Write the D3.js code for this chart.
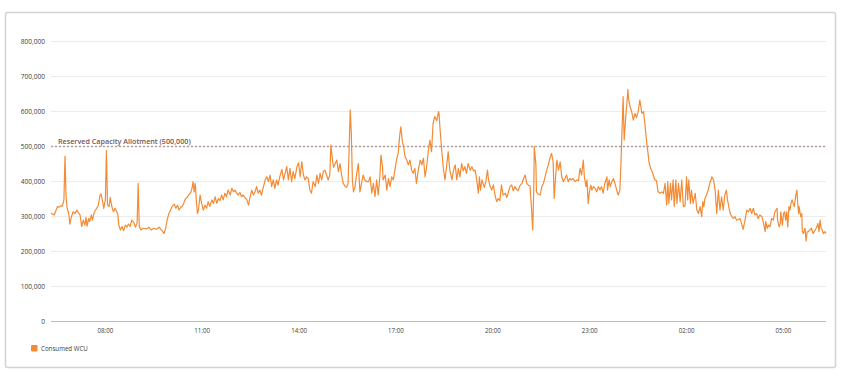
<!DOCTYPE html>
<html>
<head>
<meta charset="utf-8">
<script src="https://cdn.jsdelivr.net/npm/d3@7"></script>
<style>
  body { margin: 0; background: #fff; font-family: "Open Sans", sans-serif; }
</style>
</head>
<body>
<div id="chart"></div>
<script>
// series: [minutes after 06:20, consumed WCU in thousands]
const consumedWcu = [
  [0,309],[2,306],[6,303],[9,315],[12,327],[15,325],[18,329],[21,328],[24,346],[26,471],[28,355],[30,322],
  [33,307],[35,277],[38,298],[41,312],[45,307],[48,317],[51,309],[54,303],[57,270],[60,288],[63,274],[65,296],
  [67,271],[70,293],[72,284],[75,303],[77,288],[80,309],[82,315],[85,322],[88,331],[91,360],[93,363],[96,341],
  [98,322],[101,346],[103,487],[105,331],[108,327],[110,353],[113,327],[116,312],[119,322],[122,312],[124,306],
  [126,274],[129,260],[132,270],[135,258],[138,274],[141,268],[144,277],[147,270],[150,288],[154,281],[157,268],
  [160,281],[162,393],[164,270],[167,260],[171,265],[177,263],[182,268],[186,260],[191,265],[196,262],[201,268],
  [206,258],[210,250],[213,265],[216,290],[219,307],[222,317],[225,327],[229,334],[232,322],[235,331],[238,317],
  [241,325],[244,328],[247,338],[250,350],[253,353],[256,360],[260,369],[262,379],[264,398],[266,369],[268,393],
  [270,346],[272,307],[274,317],[277,360],[280,336],[283,317],[286,331],[289,322],[292,341],[295,327],[299,346],
  [302,336],[305,355],[308,336],[311,350],[314,344],[317,360],[320,346],[323,365],[326,355],[329,374],[333,360],
  [336,379],[339,369],[342,374],[345,365],[348,360],[351,367],[354,355],[357,360],[360,353],[364,346],[367,331],
  [370,355],[373,374],[376,360],[379,369],[382,384],[385,365],[388,374],[391,360],[394,379],[398,403],[401,412],
  [404,398],[407,417],[410,384],[413,403],[416,379],[419,403],[422,388],[425,412],[429,433],[432,403],[435,422],
  [438,441],[441,403],[444,436],[447,398],[450,427],[453,407],[457,441],[460,452],[463,412],[466,455],[469,417],
  [472,403],[475,412],[478,407],[481,374],[484,365],[487,398],[491,384],[494,417],[497,393],[500,422],[503,403],
  [506,427],[509,431],[512,417],[515,403],[518,417],[520,503],[523,460],[525,439],[528,450],[531,460],[534,427],
  [537,450],[540,417],[543,393],[546,386],[549,382],[552,393],[555,546],[556,603],[558,536],[560,403],[562,369],
  [565,384],[568,422],[571,450],[574,369],[577,393],[580,417],[583,403],[587,398],[590,398],[593,412],[596,365],
  [599,393],[602,355],[605,403],[608,360],[611,412],[613,474],[616,441],[617,403],[621,417],[624,374],[627,407],
  [630,384],[633,412],[636,403],[639,431],[642,460],[645,479],[648,531],[650,555],[653,512],[655,498],[658,469],
  [661,460],[664,446],[667,460],[670,431],[673,422],[676,436],[679,393],[682,427],[686,460],[689,446],[692,465],
  [695,412],[698,441],[701,484],[704,517],[707,484],[710,565],[713,584],[717,572],[720,598],[721,593],[723,546],
  [726,488],[729,436],[732,403],[735,441],[738,484],[741,431],[745,403],[748,431],[751,446],[754,403],[757,436],
  [760,412],[763,450],[766,429],[769,441],[772,422],[775,450],[779,431],[782,441],[785,429],[788,431],[791,403],
  [794,365],[796,412],[798,374],[801,403],[805,382],[808,398],[811,431],[813,403],[816,384],[819,374],[822,389],
  [825,360],[828,341],[831,350],[834,344],[837,389],[840,360],[844,365],[847,353],[850,369],[853,384],[856,389],
  [859,372],[862,384],[865,376],[868,372],[871,386],[875,393],[878,407],[881,417],[884,393],[887,388],[890,386],
  [893,317],[895,260],[897,374],[898,498],[901,446],[902,369],[905,363],[909,360],[912,384],[915,393],[918,412],
  [921,431],[924,446],[927,465],[930,479],[933,455],[935,350],[938,422],[940,460],[943,431],[946,455],[949,412],
  [952,398],[955,407],[958,417],[961,398],[964,407],[967,403],[970,407],[974,398],[977,403],[980,401],[983,436],
  [986,417],[989,460],[991,412],[994,384],[996,403],[998,336],[1000,365],[1003,388],[1005,374],[1008,384],
  [1011,379],[1014,369],[1017,384],[1020,374],[1023,384],[1026,365],[1029,393],[1033,412],[1034,374],[1037,403],
  [1039,384],[1042,398],[1045,407],[1048,393],[1051,374],[1054,360],[1057,374],[1059,450],[1060,498],[1062,593],
  [1063,641],[1065,517],[1068,584],[1070,622],[1072,662],[1073,636],[1076,612],[1079,598],[1082,574],[1085,593],
  [1088,581],[1091,598],[1094,631],[1098,593],[1101,598],[1104,555],[1107,507],[1109,484],[1111,455],[1114,436],
  [1116,431],[1119,417],[1122,403],[1125,401],[1128,369],[1132,365],[1135,369],[1138,365],[1141,393],[1144,331],
  [1146,398],[1148,336],[1151,393],[1153,346],[1156,403],[1158,327],[1161,403],[1163,336],[1166,393],[1169,341],
  [1172,403],[1175,327],[1178,329],[1181,412],[1183,346],[1185,403],[1188,336],[1190,374],[1193,336],[1197,365],
  [1200,317],[1203,307],[1206,327],[1209,298],[1211,341],[1213,327],[1215,350],[1218,360],[1221,374],[1224,393],
  [1228,412],[1231,403],[1234,374],[1237,307],[1240,374],[1243,317],[1246,355],[1249,317],[1252,360],[1255,374],
  [1257,346],[1260,322],[1262,307],[1265,298],[1268,293],[1271,298],[1274,288],[1277,290],[1280,293],[1283,279],
  [1286,262],[1289,284],[1293,317],[1296,312],[1299,322],[1302,307],[1305,322],[1308,303],[1311,307],[1314,293],
  [1317,303],[1321,298],[1324,279],[1327,255],[1328,284],[1331,265],[1333,274],[1336,269],[1339,293],[1342,288],
  [1345,312],[1349,322],[1350,288],[1353,269],[1355,279],[1356,312],[1359,274],[1361,307],[1363,312],[1365,288],
  [1367,312],[1369,269],[1371,327],[1373,317],[1375,336],[1377,346],[1379,336],[1381,327],[1384,360],[1386,374],
  [1387,346],[1389,307],[1390,327],[1393,298],[1395,307],[1396,255],[1398,250],[1401,265],[1403,229],[1405,255],
  [1407,255],[1410,260],[1413,265],[1416,250],[1420,260],[1423,269],[1425,279],[1427,255],[1429,288],[1431,265],
  [1433,260],[1435,250],[1438,255],[1440,250]
];

const startTime = new Date(2023, 0, 1, 6, 20);
const windowMinutes = 1440;
const yTicks = [0, 100000, 200000, 300000, 400000, 500000, 600000, 700000, 800000];
const xTickLabels = ["08:00", "11:00", "14:00", "17:00", "20:00", "23:00", "02:00", "05:00"];
const reservedCapacity = 500000;
const reservedLabel = "Reserved Capacity Allotment (500,000)";
const seriesName = "Consumed WCU";

const width = 843, height = 377;
const margin = { top: 41, right: 17, bottom: 56, left: 51 };
const orange = "#f38b35";

const svg = d3.select("#chart").append("svg")
  .attr("width", width)
  .attr("height", height);

// outer panel
svg.append("rect")
  .attr("x", 5.5).attr("y", 12.5)
  .attr("width", 830).attr("height", 355)
  .attr("rx", 2)
  .attr("fill", "#fff")
  .attr("stroke", "#d2d2d2")
  .attr("stroke-width", 1.5);

const data = consumedWcu.map(d => ({
  date: new Date(startTime.getTime() + d[0] * 60000),
  value: d[1] * 1000
}));

const x = d3.scaleTime()
  .domain([startTime, new Date(startTime.getTime() + windowMinutes * 60000)])
  .range([margin.left, width - margin.right]);

const y = d3.scaleLinear()
  .domain([0, 800000])
  .range([height - margin.bottom, margin.top]);

// tick label -> date inside the window
const tickDates = xTickLabels.map(t => {
  const [h, m] = t.split(":").map(Number);
  const d = new Date(startTime);
  d.setHours(h, m, 0, 0);
  if (d < startTime) d.setDate(d.getDate() + 1);
  return d;
});

// gridlines
svg.append("g")
  .selectAll("line")
  .data(yTicks)
  .join("line")
  .attr("x1", x.range()[0])
  .attr("x2", x.range()[1])
  .attr("y1", d => y(d) + 0.5)
  .attr("y2", d => y(d) + 0.5)
  .attr("stroke", d => d === 0 ? "#bcbcbc" : "#ececec")
  .attr("stroke-width", 1);

// y axis labels
const yAxis = d3.axisLeft(y)
  .tickValues(yTicks)
  .tickFormat(d3.format(","))
  .tickSize(0)
  .tickPadding(6);

svg.append("g")
  .attr("transform", `translate(${margin.left},0)`)
  .call(yAxis)
  .call(g => g.select(".domain").remove())
  .call(g => g.selectAll("text")
    .attr("fill", "#3d3d3d")
    .style("font-size", "6.6px")
    .style("font-family", "Open Sans, sans-serif"));

// x axis labels
const xAxis = d3.axisBottom(x)
  .tickValues(tickDates)
  .tickFormat((d, i) => xTickLabels[i])
  .tickSize(0)
  .tickPadding(8);

svg.append("g")
  .attr("transform", `translate(0,${height - margin.bottom})`)
  .call(xAxis)
  .call(g => g.select(".domain").remove())
  .call(g => g.selectAll("text")
    .attr("fill", "#3d3d3d")
    .style("font-size", "6.2px")
    .style("font-family", "Open Sans, sans-serif"));

// reserved capacity line
svg.append("line")
  .attr("x1", x.range()[0])
  .attr("x2", x.range()[1])
  .attr("y1", y(reservedCapacity) + 0.5)
  .attr("y2", y(reservedCapacity) + 0.5)
  .attr("stroke", "#b99c9c")
  .attr("stroke-width", 1.3)
  .attr("stroke-dasharray", "2,2");

svg.append("text")
  .attr("x", x.range()[0] + 7)
  .attr("y", y(reservedCapacity) - 2.5)
  .attr("fill", "#6f5858")
  .style("font-size", "7.2px")
  .style("font-weight", 600)
  .style("font-family", "Open Sans, sans-serif")
  .text(reservedLabel);

// consumed WCU line
const line = d3.line()
  .x(d => x(d.date))
  .y(d => y(d.value));

svg.append("path")
  .datum(data)
  .attr("fill", "none")
  .attr("stroke", orange)
  .attr("stroke-width", 1.2)
  .attr("stroke-linejoin", "round")
  .attr("d", line);

// legend
const legend = svg.append("g").attr("transform", "translate(31,345)");
legend.append("rect")
  .attr("width", 6.5).attr("height", 6.5)
  .attr("rx", 1.2)
  .attr("fill", orange);
legend.append("text")
  .attr("x", 10)
  .attr("y", 6)
  .attr("fill", "#3d3d3d")
  .style("font-size", "6.2px")
  .style("font-family", "Open Sans, sans-serif")
  .text(seriesName);
</script>
</body>
</html>
